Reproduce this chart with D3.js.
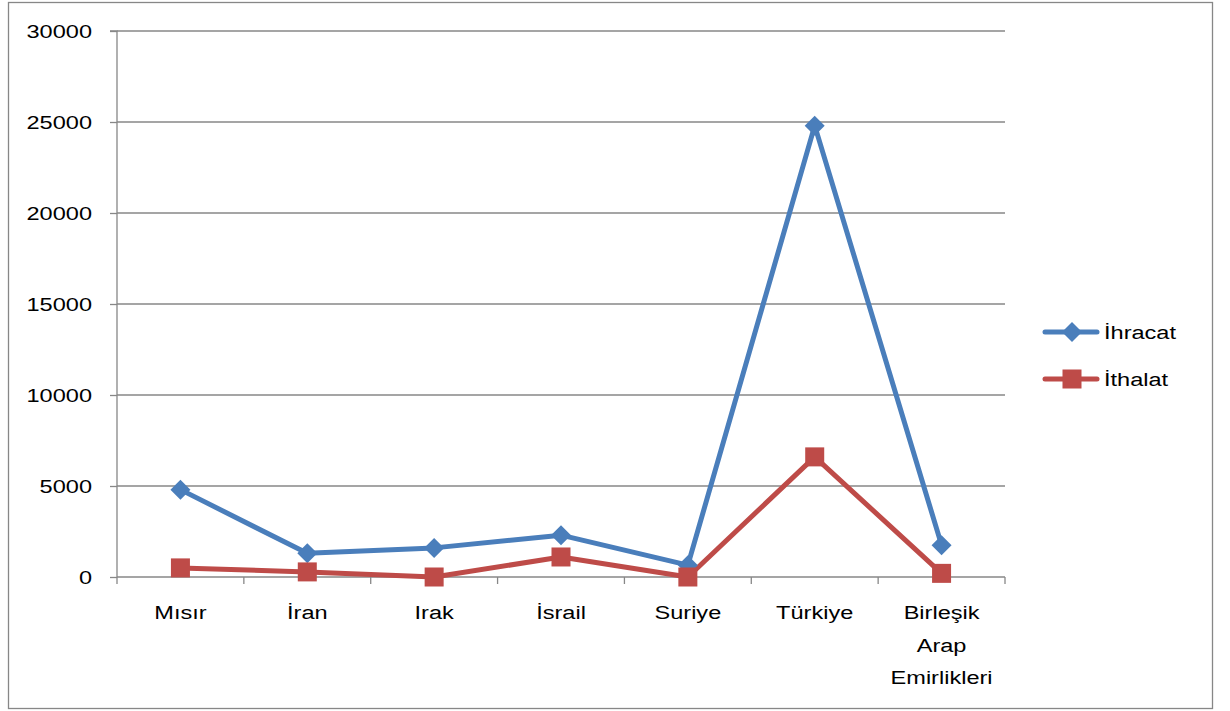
<!DOCTYPE html>
<html><head><meta charset="utf-8">
<script src="https://cdn.jsdelivr.net/npm/d3@7"></script>
<style>body{margin:0;background:#fff}svg{display:block}</style>
</head><body><svg id="c" width="1230" height="711"></svg>
<script>
const categories = ["Mısır","İran","Irak","İsrail","Suriye","Türkiye","Birleşik Arap Emirlikleri"];
const ihracat = [4800,1300,1600,2300,650,24800,1750];
const ithalat = [500,280,0,1100,0,6600,200];
const seriesNames = ["İhracat","İthalat"];
const yTicks = [0,5000,10000,15000,20000,25000,30000];

const svg = d3.select("#c");
const font = "Liberation Sans, Arial, sans-serif";
const FS = 19, SX = 1.24;
const gridColor = "#878787";
const colors = ["#4A7EBB","#BE4B48"];

function label(parent, x0, y0, txt, anchor){
  return parent.append("g").attr("transform",`translate(${x0},${y0}) scale(${SX},1)`)
    .append("text").attr("font-family",font).attr("font-size",FS).attr("fill","#000")
    .attr("text-anchor",anchor).text(txt);
}

svg.append("rect").attr("x",8.5).attr("y",2.5).attr("width",1204).attr("height",706)
  .attr("fill","none").attr("stroke",gridColor).attr("stroke-width",1.3);

const L=117, R=1005, T=31, B=577;
const x = d3.scaleBand().domain(categories).range([L,R]).padding(0);
const y = d3.scaleLinear().domain([0,30000]).range([B,T]);

// grid
svg.append("g").selectAll("line").data(yTicks.filter(d=>d>0)).join("line")
  .attr("x1",L).attr("x2",R).attr("y1",d=>y(d)).attr("y2",d=>y(d))
  .attr("stroke",gridColor).attr("stroke-width",1.3);

// y axis
const ya = svg.append("g").attr("transform",`translate(${L},0)`)
  .call(d3.axisLeft(y).tickValues(yTicks).tickSize(7).tickFormat(""));
ya.selectAll("path,line").attr("stroke",gridColor).attr("stroke-width",1.3);
ya.select(".domain").attr("d",`M-7,${T}H0V${B}`);
const yl = svg.append("g");
yTicks.forEach(t=>label(yl, 92, y(t)+7, d3.format("d")(t), "end"));

// x axis
const xa = svg.append("g").attr("transform",`translate(0,${B})`);
xa.append("line").attr("x1",L).attr("x2",R).attr("stroke",gridColor).attr("stroke-width",1.3);
const bounds = categories.map(c=>x(c)).concat([R]);
xa.selectAll(".tk").data(bounds).join("line").attr("class","tk")
  .attr("x1",d=>d).attr("x2",d=>d).attr("y1",0).attr("y2",7)
  .attr("stroke",gridColor).attr("stroke-width",1.3);
categories.forEach(c=>{
  const cx = x(c)+x.bandwidth()/2;
  c.split(" ").forEach((w,i)=>label(xa, cx, 42+i*32.5, w, "middle"));
});

// lines
const data = [ihracat, ithalat];
const line = d3.line().x((d,i)=>x(categories[i])+x.bandwidth()/2).y(d=>y(d));
data.forEach((s,k)=>{
  svg.append("path").datum(s).attr("d",line).attr("fill","none")
    .attr("stroke",colors[k]).attr("stroke-width",5).attr("stroke-linejoin","round");
});
const diamond = (cx,cy,r)=>`M${cx},${cy-r}L${cx+r},${cy}L${cx},${cy+r}L${cx-r},${cy}Z`;
svg.append("g").selectAll("path").data(ihracat).join("path")
  .attr("d",(d,i)=>diamond(x(categories[i])+x.bandwidth()/2,y(d),10)).attr("fill",colors[0]);
svg.append("g").selectAll("rect").data(ithalat).join("rect")
  .attr("x",(d,i)=>x(categories[i])+x.bandwidth()/2-9.5).attr("y",d=>y(d)-9.5)
  .attr("width",19).attr("height",19).attr("fill",colors[1]);

// legend
const lg = svg.append("g");
seriesNames.forEach((n,k)=>{
  const cy = 332 + k*47;
  lg.append("line").attr("x1",1045).attr("x2",1097).attr("y1",cy).attr("y2",cy)
    .attr("stroke",colors[k]).attr("stroke-width",5).attr("stroke-linecap","round");
  if(k===0) lg.append("path").attr("d",diamond(1072,cy,10)).attr("fill",colors[0]);
  else lg.append("rect").attr("x",1062.5).attr("y",cy-9.5).attr("width",19).attr("height",19).attr("fill",colors[1]);
  label(lg, 1104, cy+7, n, "start");
});
</script></body></html>
